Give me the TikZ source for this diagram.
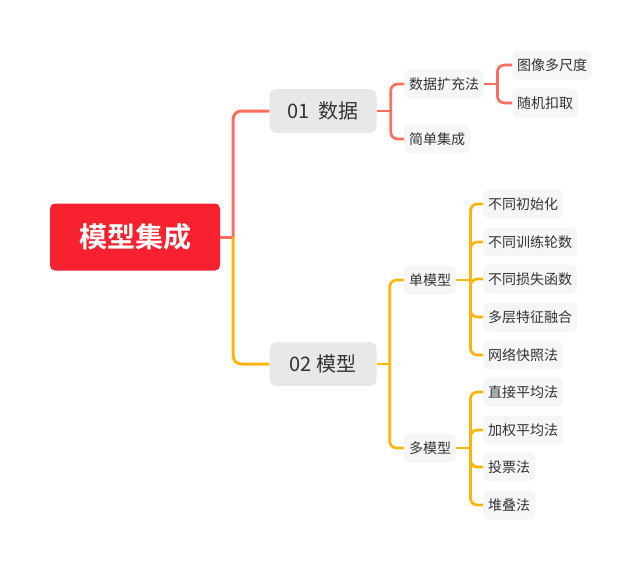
\documentclass[tikz,border=0pt]{standalone}
\usepackage{fontspec}
\setmainfont{Noto Sans CJK SC}[BoldFont={Noto Sans CJK SC Bold}]
\usepackage{xcolor}
\usepackage{tikz}
\usetikzlibrary{calc}

\definecolor{rootred}{HTML}{F7212F}
\definecolor{salmon}{HTML}{FF6E5C}
\definecolor{amber}{HTML}{FFB40C}
\definecolor{topicgray}{HTML}{E8E8E8}
\definecolor{leafgray}{HTML}{F6F6F6}
\definecolor{inkgray}{HTML}{333333}

\begin{document}
\begin{tikzpicture}[
    x=1pt, y=-1pt,
    root/.style={rectangle, rounded corners=5pt, fill=rootred, text=white, minimum width=170pt, minimum height=67pt, font=\fontsize{28}{32}\selectfont\bfseries},
    topic/.style={rectangle, rounded corners=7pt, fill=topicgray, text=inkgray, minimum width=107pt, minimum height=44pt, font=\fontsize{20}{24}\selectfont},
    leaf/.style={rectangle, rounded corners=6pt, fill=leafgray, text=inkgray, inner xsep=5pt, minimum height=29pt, anchor=west, font=\fontsize{14}{17}\selectfont},
    branch/.style={line width=3pt, rounded corners=8pt},
    twig/.style={line width=2.7pt, rounded corners=7pt}
]
    \useasboundingbox (0,0) rectangle (643,571);

    % Central topic
    \node [root] (root) at (135,237) {模型集成};

    % Main topics
    \node [topic] (data) at (323,111) {01\ \ 数据};
    \node [topic] (model) at (323,364) {02 模型};

    % Data subtopics
    \node [leaf] (augment) at (404,84) {数据扩充法};
    \node [leaf] (simple) at (404,139) {简单集成};
    \node [leaf] (scale) at (512,65) {图像多尺度};
    \node [leaf] (crop) at (512,103) {随机扣取};

    % Model subtopics
    \node [leaf] (single) at (404,280) {单模型};
    \node [leaf] (multi) at (404,448) {多模型};

    % Single model methods
    \node [leaf] (init) at (483,204) {不同初始化};
    \node [leaf] (epoch) at (483,242) {不同训练轮数};
    \node [leaf] (loss) at (483,279) {不同损失函数};
    \node [leaf] (fuse) at (483,317) {多层特征融合};
    \node [leaf] (snap) at (483,355) {网络快照法};

    % Multi model methods
    \node [leaf] (avg) at (483,392) {直接平均法};
    \node [leaf] (wavg) at (483,430) {加权平均法};
    \node [leaf] (vote) at (483,467) {投票法};
    \node [leaf] (stack) at (483,505) {堆叠法};

    % Root to main topics
    \draw [branch, salmon] (root.east) -- ++(13,0) coordinate (rootjoint);
    \draw [branch, salmon] (rootjoint) |- (data.west);
    \draw [branch, amber] (rootjoint) |- (model.west);

    % Data branch
    \draw [twig, salmon] (data.east) -- ++(14,0) coordinate (datajoint);
    \draw [twig, salmon] (datajoint) |- (augment.west);
    \draw [twig, salmon] (datajoint) |- (simple.west);
    \draw [twig, salmon] (augment.east) -- ++(13,0) coordinate (augjoint);
    \draw [twig, salmon] (augjoint) |- (scale.west);
    \draw [twig, salmon] (augjoint) |- (crop.west);

    % Model branch
    \draw [twig, amber] (model.east) -- ++(13,0) coordinate (modeljoint);
    \draw [twig, amber] (modeljoint) |- (single.west);
    \draw [twig, amber] (modeljoint) |- (multi.west);
    \draw [twig, amber] (single.east) -- ++(14,0) coordinate (singlejoint);
    \draw [twig, amber] (singlejoint) |- (init.west);
    \draw [twig, amber] (singlejoint) |- (epoch.west);
    \draw [twig, amber] (singlejoint) |- (loss.west);
    \draw [twig, amber] (singlejoint) |- (fuse.west);
    \draw [twig, amber] (singlejoint) |- (snap.west);
    \draw [twig, amber] (multi.east) -- ++(14,0) coordinate (multijoint);
    \draw [twig, amber] (multijoint) |- (avg.west);
    \draw [twig, amber] (multijoint) |- (wavg.west);
    \draw [twig, amber] (multijoint) |- (vote.west);
    \draw [twig, amber] (multijoint) |- (stack.west);
\end{tikzpicture}
\end{document}
